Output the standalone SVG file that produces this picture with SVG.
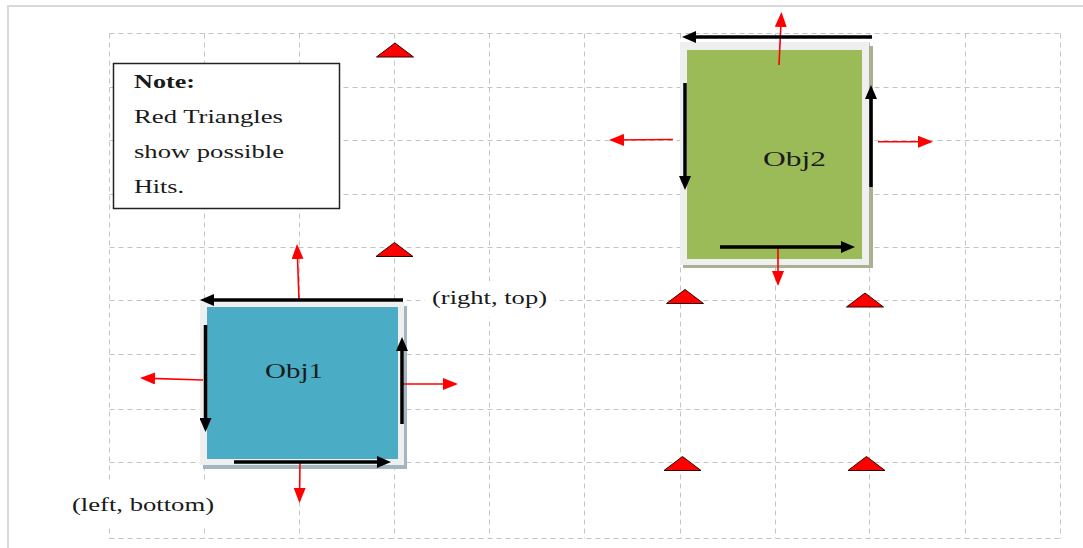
<svg xmlns="http://www.w3.org/2000/svg" width="1083" height="548" viewBox="0 0 1083 548">
<style>
.grid{fill:none;stroke:#c4c4c4;stroke-width:1;stroke-dasharray:5 4}
.frame{fill:none;stroke:#d9d9d9;stroke-width:2}
.txt{font-family:"Liberation Serif","Times New Roman",serif;fill:#1a1a1a}
.note{font-size:19px}
.lbl{font-size:19px}
.obj{font-size:22px}
.blk{fill:none;stroke:#000;stroke-width:3.5;marker-end:url(#headB)}
.red{fill:none;stroke:#ff0000;stroke-width:1.6;marker-end:url(#headR)}
.tri{fill:#ff0000;stroke:#3a0000;stroke-width:1}
</style>
<defs>
<marker id="headB" markerUnits="userSpaceOnUse" markerWidth="14" markerHeight="12" refX="6" refY="6" orient="auto">
<path d="M0,0 L14,6 L0,12 Z" fill="#000"/>
</marker>
<marker id="headR" markerUnits="userSpaceOnUse" markerWidth="15" markerHeight="12" refX="13" refY="6" orient="auto">
<path d="M0,0 L15,6 L0,12 Z" fill="#ff0000"/>
</marker>
<path id="tri" d="M-18.5,14 L0,0 L18.5,14 Z"/>
</defs>
<rect width="1083" height="548" fill="#fff"/>
<rect class="frame" x="8" y="6" width="1100" height="600"/>
<g id="grid">
<path class="grid" d="M109.5,33.5V538.5M204.5,33.5V538.5M299.5,33.5V538.5M394.5,33.5V538.5M489.5,33.5V538.5M584.5,33.5V538.5M680.5,33.5V538.5M775.5,33.5V538.5M869.5,33.5V538.5M965.5,33.5V538.5M1060.5,33.5V538.5"/>
<path class="grid" d="M109.5,33.5H1060.5M109.5,87.5H1060.5M109.5,140.5H1060.5M109.5,194.5H1060.5M109.5,247.5H1060.5M109.5,300.5H1060.5M109.5,354.5H1060.5M109.5,409.5H1060.5M109.5,462.5H1060.5M109.5,538.5H1060.5"/>
</g>
<g id="note">
<rect x="113.5" y="63.5" width="226" height="145" fill="#fff" stroke="#222" stroke-width="1.5"/>
<text class="txt note" x="134" y="88" font-weight="bold" textLength="61" lengthAdjust="spacingAndGlyphs">Note:</text>
<text class="txt note" x="134" y="123" textLength="149" lengthAdjust="spacingAndGlyphs">Red Triangles</text>
<text class="txt note" x="134" y="158" textLength="150" lengthAdjust="spacingAndGlyphs">show possible</text>
<text class="txt note" x="134" y="193" textLength="50" lengthAdjust="spacingAndGlyphs">Hits.</text>
</g>
<g id="obj1">
<rect x="203" y="306" width="204" height="163" fill="#a3b6bf"/>
<rect x="200" y="302" width="204" height="163" fill="#efefef"/>
<rect x="207" y="307" width="191" height="152" fill="#4bacc6"/>
<text class="txt obj" x="265" y="378" textLength="58" lengthAdjust="spacingAndGlyphs">Obj1</text>
</g>
<g id="obj2">
<rect x="683" y="46" width="190" height="222" fill="#a9b192"/>
<rect x="680" y="42" width="189" height="223" fill="#efefef"/>
<rect x="687" y="50" width="175" height="209" fill="#9bbb59"/>
<text class="txt obj" x="763" y="166" textLength="63" lengthAdjust="spacingAndGlyphs">Obj2</text>
</g>
<g id="labels">
<rect x="425" y="281" width="130" height="36" fill="#fff"/>
<text class="txt lbl" x="432" y="304" textLength="115" lengthAdjust="spacingAndGlyphs">(right, top)</text>
<rect x="64" y="482" width="158" height="45" fill="#fff"/>
<text class="txt lbl" x="72" y="511" textLength="142" lengthAdjust="spacingAndGlyphs">(left, bottom)</text>
</g>
<g id="hits">
<use href="#tri" class="tri" x="395" y="43"/>
<use href="#tri" class="tri" x="394.5" y="242.5"/>
<use href="#tri" class="tri" x="685" y="289.5"/>
<use href="#tri" class="tri" x="865" y="293"/>
<use href="#tri" class="tri" x="682.5" y="456.5"/>
<use href="#tri" class="tri" x="866.5" y="456.5"/>
</g>
<g id="connectors">
<path class="red" d="M299,300 L297.1,246"/>
<path class="red" d="M203,380 L142,378.1"/>
<path class="red" d="M403,384 L456,384"/>
<path class="red" d="M300,462 L299.5,501"/>
<path class="red" d="M779,65 L781.4,14"/>
<path class="red" d="M673,139.5 L611,140"/>
<path class="red" d="M878,141.7 L931,141.7"/>
<path class="red" d="M778,247 L778,284"/>
<path class="blk" d="M403,300 L208,300"/>
<path class="blk" d="M205.5,325 L205.5,424"/>
<path class="blk" d="M234,462 L383,462"/>
<path class="blk" d="M402,424 L402,345"/>
<path class="blk" d="M872,37 L690,37"/>
<path class="blk" d="M685,83 L685,182"/>
<path class="blk" d="M871,187 L871,93"/>
<path class="blk" d="M720,247 L847,247"/>
</g>
</svg>
